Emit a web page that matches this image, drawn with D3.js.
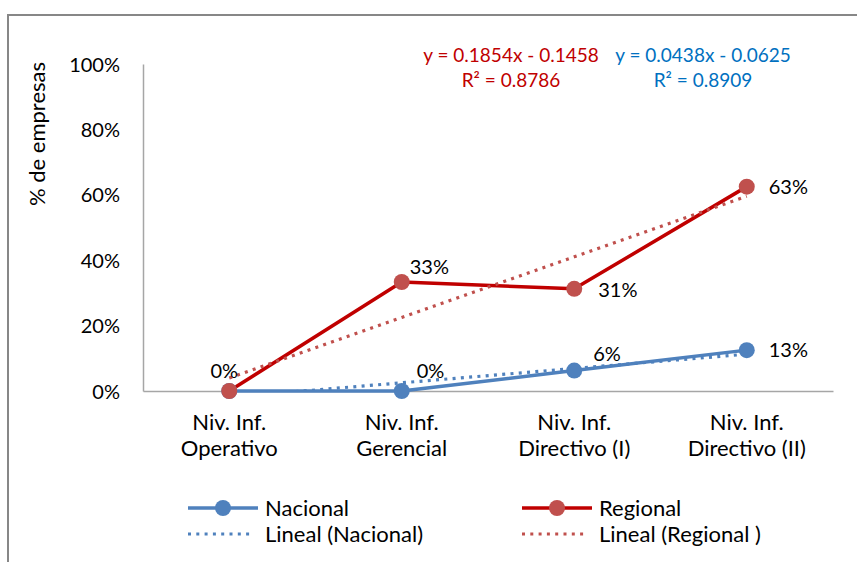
<!DOCTYPE html>
<html>
<head>
<meta charset="utf-8">
<script src="https://cdn.jsdelivr.net/npm/d3@7"></script>
<style>
  html, body { margin: 0; padding: 0; background: #fff; }
  svg { display: block; }
  text { font-family: "Lato", "Open Sans", sans-serif; fill: #000; }
</style>
</head>
<body>
<svg id="chart" width="857" height="562"></svg>
<script>
// ---- data ----
const categories = ["Niv. Inf.\nOperativo", "Niv. Inf.\nGerencial", "Niv. Inf.\nDirectivo (I)", "Niv. Inf.\nDirectivo (II)"];
const nacional = [0, 0, 0.0625, 0.125];
const regional = [0, 0.3333, 0.3125, 0.625];
const yTicks = [0, 0.2, 0.4, 0.6, 0.8, 1.0];
const trendSlope = { nacional: 0.0438, regional: 0.1854 };
const trendIntercept = { nacional: -0.0625, regional: -0.1458 };
const equationText = {
  regional: ["y = 0.1854x - 0.1458", "R² = 0.8786"],
  nacional: ["y = 0.0438x - 0.0625", "R² = 0.8909"]
};
const nacionalLabels = [null, "0%", "6%", "13%"];
const regionalLabels = ["0%", "33%", "31%", "63%"];
const legendNames = ["Nacional", "Regional", "Lineal (Nacional)", "Lineal (Regional )"];
const yTitle = "% de empresas";

// ---- layout / style ----
const W = 857, H = 562;
const plot = { left: 143, right: 833, top: 64, bottom: 391 };
const colors = {
  nacLine: "#4F81BD", nacMarker: "#4F81BD",
  regLine: "#C00000", regMarker: "#C0504D",
  nacTrend: "#4F81BD", regTrend: "#C0504D",
  regEq: "#C00000", nacEq: "#0070C0",
  axis: "#A6A6A6", border: "#878787"
};
const FS_NUM = 20;   // numbers
const FS_TXT = 22;   // words

const svg = d3.select("#chart");

// outer border (chart area frame, partly cropped)
svg.append("path")
  .attr("d", `M8,${H} V15 H${W}`)
  .attr("fill", "none").attr("stroke", colors.border).attr("stroke-width", 2);

const x = d3.scaleBand().domain(categories).range([plot.left, plot.right]);
const xc = c => x(c) + x.bandwidth() / 2;
const y = d3.scaleLinear().domain([0, 1]).range([plot.bottom, plot.top]);

// y axis
const yAxis = svg.append("g")
  .attr("transform", `translate(${plot.left},0)`)
  .call(d3.axisLeft(y).tickValues(yTicks).tickFormat(d3.format(".0%")).tickSize(0).tickPadding(23));
yAxis.select(".domain").attr("stroke", colors.axis).attr("stroke-width", 1.5);
yAxis.selectAll("text").style("font-size", FS_NUM + "px").attr("font-family", null).attr("dy", "0.35em");

// x axis
const xAxis = svg.append("g")
  .attr("transform", `translate(0,${plot.bottom})`)
  .call(d3.axisBottom(x).tickSize(0).tickFormat(""));
xAxis.select(".domain").attr("stroke", colors.axis).attr("stroke-width", 1.5);
xAxis.selectAll(".tick").each(function(d) {
  const t = d3.select(this).append("text").attr("text-anchor", "middle").style("font-size", FS_TXT + "px");
  d.split("\n").forEach((line, i) => {
    t.append("tspan").attr("x", 0).attr("y", 39 + i * 26).text(line);
  });
});

// y title
svg.append("text")
  .attr("transform", `translate(45,134) rotate(-90)`)
  .attr("text-anchor", "middle")
  .style("font-size", FS_TXT + "px")
  .text(yTitle);

// clip for trend lines
svg.append("clipPath").attr("id", "plotclip")
  .append("rect").attr("x", plot.left).attr("y", 0)
  .attr("width", plot.right - plot.left).attr("height", plot.bottom);

const line = d3.line().x((d, i) => xc(categories[i])).y(d => y(d));

function drawSeries(values, lineColor) {
  svg.append("path").datum(values)
    .attr("d", line).attr("fill", "none")
    .attr("stroke", lineColor).attr("stroke-width", 3.5).attr("stroke-linejoin", "round");
}
function drawMarkers(values, markerColor) {
  svg.append("g").selectAll("circle").data(values).join("circle")
    .attr("cx", (d, i) => xc(categories[i])).attr("cy", d => y(d)).attr("r", 8)
    .attr("fill", markerColor);
}
function drawTrend(key, color) {
  const pts = categories.map((c, i) => trendSlope[key] * (i + 1) + trendIntercept[key]);
  svg.append("path").datum(pts)
    .attr("clip-path", "url(#plotclip)")
    .attr("d", line).attr("fill", "none")
    .attr("stroke", color).attr("stroke-width", 3.2)
    .attr("stroke-dasharray", "3,5.3");
}

drawSeries(nacional, colors.nacLine);
drawSeries(regional, colors.regLine);
drawTrend("nacional", colors.nacTrend);
drawTrend("regional", colors.regTrend);
drawMarkers(nacional, colors.nacMarker);
drawMarkers(regional, colors.regMarker);

// data labels
const placement = {
  "above": { dx: -5, dy: -13, anchor: "middle" },
  "aboveRight": { dx: 15, dy: -13, anchor: "start" },
  "upRight": { dx: 8, dy: -8, anchor: "start" },
  "right": { dx: 22, dy: 7, anchor: "start" },
  "rightHigh": { dx: 19, dy: -10, anchor: "start" },
  "rightLow": { dx: 24, dy: 8, anchor: "start" }
};
const nacionalPlacement = [null, "aboveRight", "rightHigh", "right"];
const regionalPlacement = ["above", "upRight", "rightLow", "right"];
function drawLabels(values, labels, places) {
  values.forEach((v, i) => {
    if (!labels[i]) return;
    const p = placement[places[i]];
    svg.append("text")
      .attr("x", xc(categories[i]) + p.dx).attr("y", y(v) + p.dy)
      .attr("text-anchor", p.anchor)
      .style("font-size", FS_NUM + "px")
      .text(labels[i]);
  });
}
drawLabels(nacional, nacionalLabels, nacionalPlacement);
drawLabels(regional, regionalLabels, regionalPlacement);

// trend equations
function drawEq(lines, cx, color) {
  lines.forEach((l, i) => {
    svg.append("text").attr("x", cx).attr("y", 62 + i * 25)
      .attr("text-anchor", "middle").style("font-size", "19px")
      .style("fill", color).text(l);
  });
}
drawEq(equationText.regional, 511, colors.regEq);
drawEq(equationText.nacional, 703, colors.nacEq);

// legend
const legend = [
  { name: legendNames[0], x0: 188, y0: 508, color: colors.nacLine, mk: colors.nacMarker, dotted: false },
  { name: legendNames[1], x0: 522, y0: 508, color: colors.regLine, mk: colors.regMarker, dotted: false },
  { name: legendNames[2], x0: 188, y0: 534, color: colors.nacTrend, dotted: true },
  { name: legendNames[3], x0: 522, y0: 534, color: colors.regTrend, dotted: true }
];
legend.forEach(L => {
  const g = svg.append("g");
  if (L.dotted) {
    g.append("line").attr("x1", L.x0).attr("x2", L.x0 + 66).attr("y1", L.y0).attr("y2", L.y0)
      .attr("stroke", L.color).attr("stroke-width", 3.2).attr("stroke-dasharray", "3,5.3");
  } else {
    g.append("line").attr("x1", L.x0).attr("x2", L.x0 + 70).attr("y1", L.y0).attr("y2", L.y0)
      .attr("stroke", L.color).attr("stroke-width", 3.5);
    g.append("circle").attr("cx", L.x0 + 35).attr("cy", L.y0).attr("r", 8).attr("fill", L.mk);
  }
  g.append("text").attr("x", L.x0 + 77).attr("y", L.y0).attr("dy", "0.35em")
    .style("font-size", FS_TXT + "px").text(L.name);
});
</script>
</body>
</html>
